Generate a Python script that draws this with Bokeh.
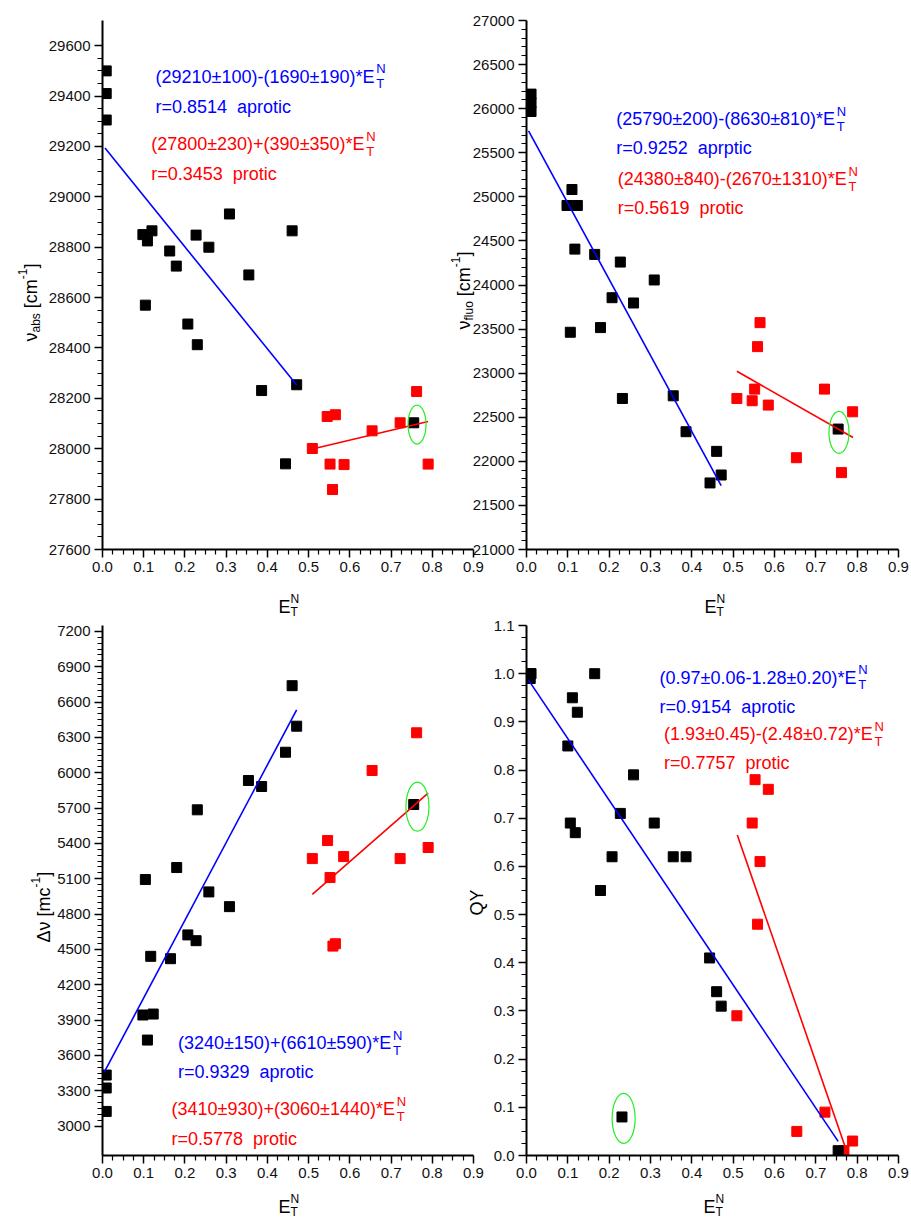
import math
from bokeh.plotting import figure
from bokeh.layouts import row, column
from bokeh.models import FixedTicker, PrintfTickFormatter, Label, Range1d
from bokeh.embed import file_html
from bokeh.resources import INLINE

# ---------------- data ----------------
abs_aprotic_x = [0.009, 0.009, 0.009, 0.098, 0.104, 0.109, 0.12, 0.163, 0.179, 0.207,
                 0.227, 0.23, 0.258, 0.308, 0.355, 0.386, 0.444, 0.46, 0.471, 0.755]
abs_aprotic_y = [29500, 29410, 29305, 28850, 28570, 28825, 28865, 28785, 28725, 28495,
                 28848, 28413, 28800, 28932, 28690, 28231, 27940, 28865, 28254, 28103]
abs_protic_x = [0.509, 0.545, 0.565, 0.552, 0.558, 0.586, 0.654, 0.722, 0.762, 0.79]
abs_protic_y = [28001, 28128, 28135, 27939, 27838, 27937, 28071, 28103, 28227, 27939]

fluo_aprotic_x = [0.011, 0.011, 0.011, 0.098, 0.106, 0.11, 0.117, 0.123, 0.165, 0.179, 0.207,
                  0.227, 0.232, 0.259, 0.309, 0.355, 0.386, 0.444, 0.46, 0.471, 0.754]
fluo_aprotic_y = [26165, 26065, 25968, 24902, 23464, 25083, 24407, 24902, 24347, 23517, 23856,
                  24260, 22713, 23796, 24057, 22743, 22336, 21755, 22113, 21845, 22366]
fluo_protic_x = [0.509, 0.546, 0.552, 0.559, 0.565, 0.585, 0.653, 0.721, 0.762, 0.789]
fluo_protic_y = [22713, 22687, 22819, 23301, 23573, 22638, 22041, 22819, 21872, 22562]

dnu_aprotic_x = [0.009, 0.009, 0.009, 0.098, 0.104, 0.109, 0.117, 0.123, 0.165, 0.18, 0.207,
                 0.227, 0.23, 0.258, 0.308, 0.354, 0.386, 0.444, 0.46, 0.471, 0.755]
dnu_aprotic_y = [3433, 3323, 3124, 3943, 5093, 3730, 4441, 3951, 4421, 5195, 4623,
                 4574, 5685, 4988, 4863, 5934, 5883, 6174, 6739, 6395, 5730]
dnu_protic_x = [0.509, 0.546, 0.552, 0.559, 0.565, 0.585, 0.654, 0.722, 0.762, 0.79]
dnu_protic_y = [5271, 5424, 5110, 4528, 4548, 5288, 6019, 5271, 6339, 5365]

qy_aprotic_x = [0.009, 0.009, 0.011, 0.10, 0.106, 0.111, 0.118, 0.123, 0.165, 0.179, 0.207,
                0.227, 0.231, 0.259, 0.309, 0.355, 0.386, 0.443, 0.46, 0.471, 0.754]
qy_aprotic_y = [0.99, 1.0, 1.0, 0.85, 0.69, 0.95, 0.67, 0.92, 1.0, 0.55, 0.62,
                0.71, 0.08, 0.79, 0.69, 0.62, 0.62, 0.41, 0.34, 0.31, 0.01]
qy_protic_x = [0.509, 0.546, 0.553, 0.559, 0.565, 0.585, 0.654, 0.722, 0.768, 0.789]
qy_protic_y = [0.29, 0.69, 0.78, 0.48, 0.61, 0.76, 0.05, 0.09, 0.01, 0.03]

# drawn fit lines: (intercept, slope, x_start, x_end)
abs_aprotic_fit = (29206, -2024, 0.006, 0.471)
abs_protic_fit = (27800, 390, 0.517, 0.79)
fluo_aprotic_fit = (25790, -8630, 0.005, 0.471)
fluo_protic_fit = (24380, -2670, 0.509, 0.79)
dnu_aprotic_fit = (3429, 6593, 0.004, 0.471)
dnu_protic_fit = (3410, 3060, 0.509, 0.79)
qy_aprotic_fit = (0.993, -1.278, 0.005, 0.754)
qy_protic_fit = (1.93, -2.48, 0.51, 0.79)

# highlighted (excluded) points: (x, y)
abs_marked = (0.763, 28096)
fluo_marked = (0.756, 22328)
dnu_marked = (0.764, 5712)
qy_marked = (0.235, 0.077)

NB = " \u00a0"  # double space that survives SVG whitespace collapsing
abs_texts = ["(29210\u00b1100)-(1690\u00b1190)*E", "r=0.8514" + NB + "aprotic",
             "(27800\u00b1230)+(390\u00b1350)*E", "r=0.3453" + NB + "protic"]
fluo_texts = ["(25790\u00b1200)-(8630\u00b1810)*E", "r=0.9252" + NB + "aprptic",
              "(24380\u00b1840)-(2670\u00b11310)*E", "r=0.5619" + NB + "protic"]
dnu_texts = ["(3240\u00b1150)+(6610\u00b1590)*E", "r=0.9329" + NB + "aprotic",
             "(3410\u00b1930)+(3060\u00b11440)*E", "r=0.5778" + NB + "protic"]
qy_texts = ["(0.97\u00b10.06-1.28\u00b10.20)*E", "r=0.9154" + NB + "aprotic",
            "(1.93\u00b10.45)-(2.48\u00b10.72)*E", "r=0.7757" + NB + "protic"]

x_ticks = [0.0, 0.1, 0.2, 0.3, 0.4, 0.5, 0.6, 0.7, 0.8, 0.9]
abs_ticks = [27600, 27800, 28000, 28200, 28400, 28600, 28800, 29000, 29200, 29400, 29600]
fluo_ticks = [21000, 21500, 22000, 22500, 23000, 23500, 24000, 24500, 25000, 25500, 26000, 26500, 27000]
dnu_ticks = [3000, 3300, 3600, 3900, 4200, 4500, 4800, 5100, 5400, 5700, 6000, 6300, 6600, 6900, 7200]
qy_ticks = [0.0, 0.1, 0.2, 0.3, 0.4, 0.5, 0.6, 0.7, 0.8, 0.9, 1.0, 1.1]

# ---------------- styling helpers ----------------
FONT = "Liberation Sans"
BLUE = "#0000ff"
RED = "#ff0000"
GREEN = "#22ee22"
PAGE_W, PAGE_H = 909, 1219

AW = {' ': 278, '\u00a0': 278, '(': 333, ')': 333, '*': 389, '+': 584, '-': 333, '.': 278,
      '=': 584, '\u00b1': 584, 'E': 667, 'N': 722, 'T': 611, 'Q': 778, 'Y': 667, '[': 278,
      ']': 278, 'a': 556, 'b': 556, 'c': 500, 'e': 556, 'f': 278, 'i': 222, 'l': 222,
      'm': 833, 'n': 556, 'o': 556, 'p': 556, 'r': 333, 's': 500, 't': 278, 'u': 556,
      '\u03bd': 500, '\u0394': 668}


def tw(s, size):
    return sum(AW.get(ch, 556) for ch in s) * size / 1000.0


def minor_list(ticks, n):
    out = []
    for a, b in zip(ticks[:-1], ticks[1:]):
        for k in range(1, n):
            out.append(a + (b - a) * k / n)
    return out


def lbl(p, text, x, y, size, color="black", angle=0.0, xo=0, yo=0):
    p.add_layout(Label(x=x, y=y, x_units="data", y_units="data", text=text,
                       text_font=FONT, text_font_size=f"{size}px", text_color=color,
                       text_baseline="alphabetic", text_align="left", angle=angle,
                       x_offset=xo, y_offset=yo))


def make_fig(width, height, borders, yrange, yticks, yminor_n, yfmt, margin=None):
    kw = {}
    if margin is not None:
        kw["margin"] = margin
    p = figure(width=width, height=height, output_backend="svg", toolbar_location=None,
               x_range=Range1d(0, 0.9), y_range=Range1d(*yrange),
               min_border_left=borders[0], min_border_right=borders[1],
               min_border_top=borders[2], min_border_bottom=borders[3], **kw)
    p.outline_line_color = None
    p.background_fill_color = None
    p.border_fill_color = None
    p.xgrid.visible = False
    p.ygrid.visible = False
    p.xaxis.ticker = FixedTicker(ticks=x_ticks, minor_ticks=minor_list(x_ticks, 4))
    p.xaxis.formatter = PrintfTickFormatter(format="%.1f")
    p.yaxis.ticker = FixedTicker(ticks=yticks, minor_ticks=minor_list(yticks, yminor_n))
    p.yaxis.formatter = PrintfTickFormatter(format=yfmt)
    p.axis.axis_label = None
    p.axis.axis_line_width = 2
    p.axis.axis_line_color = "black"
    p.axis.major_tick_line_width = 1.5
    p.axis.major_tick_line_color = "black"
    p.axis.minor_tick_line_width = 1.2
    p.axis.minor_tick_line_color = "black"
    p.axis.major_tick_in = 0
    p.axis.major_tick_out = 8
    p.axis.minor_tick_in = 0
    p.axis.minor_tick_out = 5
    p.axis.major_label_text_font = FONT
    p.axis.major_label_text_font_size = "15px"
    p.axis.major_label_text_color = "#111111"
    p.axis.major_label_standoff = 4
    return p


def draw_panel(p, ax_, ay_, px_, py_, fit_a, fit_p, marked, msize):
    p.scatter(px_, py_, marker="square", size=10, fill_color=RED, line_color=RED)
    p.scatter(ax_, ay_, marker="square", size=10, fill_color="black", line_color="black")
    for fit, col in ((fit_a, BLUE), (fit_p, RED)):
        b, m, x0, x1 = fit
        p.line([x0, x1], [b + m * x0, b + m * x1], line_color=col, line_width=1.6)
    p.ellipse(x=[marked[0]], y=[marked[1]], width=msize[0], height=msize[1],
              width_units="screen", height_units="screen",
              fill_color=None, line_color=GREEN, line_width=1.2)


def annotate(p, texts, pos):
    cols = [BLUE, BLUE, RED, RED]
    for t, (x, y), c in zip(texts, pos, cols):
        lbl(p, t, x, y, 18, c)
        if t.endswith("E"):
            w = tw(t, 18)
            lbl(p, "N", x, y, 13, c, xo=w + 0.5, yo=8)
            lbl(p, "T", x, y, 13, c, xo=w + 0.5, yo=-7)


# ---------------- figures ----------------
p1 = make_fig(490, 617, (102, 17, 20, 68), (27600, 29700), abs_ticks, 4, "%d")
draw_panel(p1, abs_aprotic_x, abs_aprotic_y, abs_protic_x, abs_protic_y,
           abs_aprotic_fit, abs_protic_fit, abs_marked, (18, 39))
annotate(p1, abs_texts, [(0.1286, 29476), (0.1286, 29358), (0.118, 29209), (0.118, 29090)])

p2 = make_fig(441, 617, (58, 11, 20, 68), (21000, 27000), fluo_ticks, 5, "%d", margin=(0, 0, 0, -22))
draw_panel(p2, fluo_aprotic_x, fluo_aprotic_y, fluo_protic_x, fluo_protic_y,
           fluo_aprotic_fit, fluo_protic_fit, fluo_marked, (20, 42))
annotate(p2, fluo_texts, [(0.217, 25879), (0.217, 25551), (0.221, 25200), (0.221, 24879)])

p3 = make_fig(490, 602, (102, 17, 8, 64), (2750, 7250), dnu_ticks, 6, "%d")
draw_panel(p3, dnu_aprotic_x, dnu_aprotic_y, dnu_protic_x, dnu_protic_y,
           dnu_aprotic_fit, dnu_protic_fit, dnu_marked, (23, 49))
annotate(p3, dnu_texts, [(0.183, 3704), (0.183, 3458), (0.1674, 3141), (0.1674, 2892)])

p4 = make_fig(441, 602, (58, 11, 8, 64), (0.0, 1.1), qy_ticks, 4, "%.1f", margin=(0, 0, 0, -22))
draw_panel(p4, qy_aprotic_x, qy_aprotic_y, qy_protic_x, qy_protic_y,
           qy_aprotic_fit, qy_protic_fit, qy_marked, (23, 50))
annotate(p4, qy_texts, [(0.322, 0.992), (0.322, 0.931), (0.3325, 0.874), (0.3325, 0.814)])

# ---------------- transparent text layer for the axis titles ----------------
tl = figure(width=PAGE_W, height=PAGE_H, output_backend="svg", toolbar_location=None,
            x_range=Range1d(0, PAGE_W), y_range=Range1d(0, PAGE_H),
            x_axis_location=None, y_axis_location=None, min_border=0,
            margin=(-PAGE_H, 0, 0, 0))
tl.outline_line_color = None
tl.background_fill_color = None
tl.border_fill_color = None
tl.grid.visible = False


def x_title(left, baseline):
    lbl(tl, "E", left, PAGE_H - baseline, 18)
    lbl(tl, "N", left + tw("E", 18), PAGE_H - baseline + 8, 12)
    lbl(tl, "T", left + tw("E", 18), PAGE_H - baseline - 5, 12)


def y_title(pieces, base_x, start_y):
    y = PAGE_H - start_y
    for text, size, shift in pieces:
        lbl(tl, text, base_x + shift, y, size, angle=math.pi / 2)
        y += tw(text, size)


x_title(278, 606)
x_title(704, 606)
x_title(278, 1206)
x_title(703, 1206)
y_title([("\u03bd", 18, 0), ("abs", 12, 5), ("\u00a0[cm", 18, 0), ("-1", 12, -8), ("]", 18, 0)], 30, 341)
y_title([("\u03bd", 18, 0), ("fluo", 12, 5), ("\u00a0[cm", 18, 0), ("-1", 12, -8), ("]", 18, 0)], 463, 329)
y_title([("\u0394\u03bd [mc", 18, 0), ("-1", 12, -8), ("]", 18, 0)], 43, 942)
y_title([("QY", 18, 0)], 476, 915)

layout = column(row(p1, p2), row(p3, p4), tl)
open("out.html", "w").write(file_html(layout, INLINE))
